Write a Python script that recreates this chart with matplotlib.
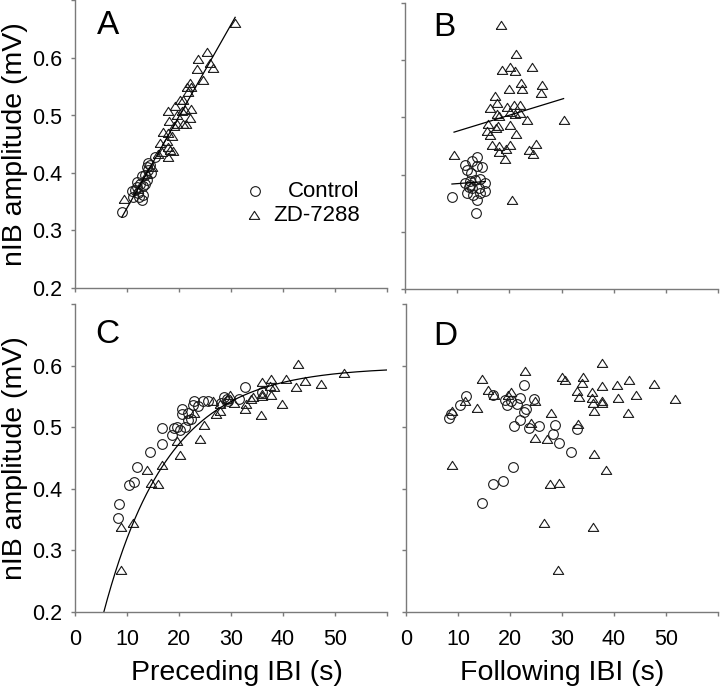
import numpy as np
import matplotlib
matplotlib.use('Agg')
import matplotlib.pyplot as plt

plt.rcParams['font.family'] = ['Liberation Sans', 'DejaVu Sans']

# Panel A: amplitude vs preceding IBI (control / ZD-7288)
a_ctrl_x = [9.0, 12.8, 11.5, 11.9, 12.5, 12.2, 13.1, 12.8, 13.8, 13.5, 14.1, 14.4,
            14.1, 15.4, 14.7, 11.2, 12.4, 13.1, 13.5, 11.9, 10.9, 13.8]
a_ctrl_y = [0.333, 0.353, 0.370, 0.385, 0.380, 0.365, 0.377, 0.394, 0.388, 0.396, 0.405, 0.414,
            0.418, 0.428, 0.400, 0.359, 0.359, 0.362, 0.380, 0.375, 0.368, 0.410]
a_zd_x = [30.8, 25.3, 23.7, 26.0, 26.5, 23.5, 24.6, 22.1, 21.5, 22.4, 21.8, 20.8,
          20.2, 19.2, 20.5, 17.9, 21.2, 22.4, 19.7, 22.2, 20.8, 21.3, 19.6, 18.1,
          19.0, 17.0, 17.8, 18.6, 16.3, 17.6, 17.9, 16.7, 18.3, 18.8, 17.8, 16.0,
          9.4, 12.2, 13.8, 14.9]
a_zd_y = [0.661, 0.611, 0.598, 0.591, 0.582, 0.580, 0.562, 0.557, 0.549, 0.550, 0.541, 0.527,
          0.527, 0.517, 0.507, 0.507, 0.510, 0.512, 0.501, 0.495, 0.486, 0.485, 0.485, 0.491,
          0.481, 0.472, 0.469, 0.464, 0.452, 0.455, 0.446, 0.437, 0.440, 0.439, 0.428, 0.433,
          0.354, 0.373, 0.399, 0.411]

# Panel B: amplitude vs following IBI
b_ctrl_x = [9.0, 13.6, 13.8, 12.8, 14.7, 11.5, 11.9, 12.6, 13.8, 14.4, 11.5, 12.5,
            13.5, 15.4, 12.2, 12.8, 14.1, 15.4, 11.9, 13.1, 14.4, 13.8, 12.4]
b_ctrl_y = [0.361, 0.332, 0.431, 0.424, 0.413, 0.416, 0.408, 0.402, 0.415, 0.393, 0.386, 0.388,
            0.390, 0.386, 0.379, 0.376, 0.376, 0.372, 0.368, 0.365, 0.367, 0.355, 0.382]
b_zd_x = [18.4, 21.2, 18.6, 20.2, 21.0, 24.4, 22.2, 26.3, 19.9, 22.4, 26.1, 17.3,
          17.6, 16.2, 19.5, 20.8, 22.1, 20.2, 21.1, 22.1, 17.6, 18.1, 23.4, 30.4,
          16.0, 20.1, 17.8, 17.5, 15.8, 16.3, 21.2, 16.7, 18.0, 20.2, 19.4, 25.1,
          23.7, 24.5, 18.0, 19.1, 9.4, 20.6]
b_zd_y = [0.662, 0.610, 0.583, 0.588, 0.581, 0.588, 0.561, 0.556, 0.549, 0.549, 0.542, 0.538,
          0.525, 0.517, 0.518, 0.522, 0.522, 0.510, 0.506, 0.508, 0.506, 0.503, 0.496, 0.495,
          0.489, 0.486, 0.485, 0.481, 0.476, 0.469, 0.471, 0.452, 0.450, 0.452, 0.444, 0.454,
          0.443, 0.436, 0.440, 0.427, 0.434, 0.355]

# Panel C: amplitude vs preceding IBI, wider range
c_ctrl_x = [8.2, 8.5, 10.4, 11.4, 11.9, 14.5, 16.7, 16.7, 18.6, 19.1, 19.7, 20.2,
            21.2, 21.8, 22.3, 20.5, 20.6, 21.8, 22.6, 22.9, 23.7, 24.7, 25.6, 28.1,
            28.7, 29.2, 29.5, 31.6, 32.7, 35.9]
c_ctrl_y = [0.353, 0.376, 0.406, 0.411, 0.435, 0.459, 0.473, 0.498, 0.488, 0.498, 0.500, 0.496,
            0.501, 0.511, 0.514, 0.529, 0.522, 0.523, 0.536, 0.542, 0.534, 0.542, 0.543, 0.540,
            0.549, 0.546, 0.543, 0.546, 0.565, 0.557]
c_zd_x = [8.8, 8.8, 11.2, 13.8, 14.6, 15.9, 16.8, 19.7, 20.2, 24.0, 24.8, 22.8,
          26.5, 27.1, 27.8, 27.9, 29.2, 29.9, 30.5, 32.7, 32.9, 33.8, 34.2, 35.8,
          35.9, 35.9, 36.0, 37.6, 37.7, 38.3, 37.5, 39.9, 40.6, 42.5, 42.9, 44.2,
          47.4, 51.8]
c_zd_y = [0.268, 0.338, 0.344, 0.430, 0.410, 0.408, 0.438, 0.477, 0.455, 0.481, 0.504, 0.523,
          0.542, 0.522, 0.526, 0.537, 0.546, 0.553, 0.539, 0.530, 0.537, 0.546, 0.549, 0.519,
          0.550, 0.554, 0.574, 0.553, 0.578, 0.566, 0.567, 0.537, 0.578, 0.566, 0.602, 0.575,
          0.570, 0.588]
# exponential fit shown in panel C: y = plateau - scale * exp(-x / tau)
c_fit_plateau = 0.598
c_fit_scale = 0.62
c_fit_tau = 12.5

# Panel D: amplitude vs following IBI, wider range
d_ctrl_x = [8.3, 8.6, 10.4, 11.5, 14.6, 16.8, 16.8, 18.6, 19.1, 19.5, 20.6, 20.8,
            21.3, 21.9, 21.9, 22.6, 22.6, 23.0, 23.7, 24.7, 25.6, 28.2, 28.7, 29.4,
            31.7, 32.8, 20.1]
d_ctrl_y = [0.515, 0.522, 0.536, 0.550, 0.377, 0.407, 0.553, 0.413, 0.544, 0.536, 0.436, 0.502,
            0.538, 0.511, 0.547, 0.568, 0.524, 0.529, 0.499, 0.545, 0.502, 0.489, 0.504, 0.474,
            0.460, 0.497, 0.542]
d_zd_x = [8.8, 8.9, 11.3, 13.7, 14.7, 15.8, 16.9, 19.7, 20.2, 22.9, 24.0, 24.8,
          24.9, 26.5, 27.2, 27.7, 27.9, 29.2, 29.5, 30.0, 30.6, 32.8, 33.0, 33.3,
          33.8, 34.1, 35.7, 35.8, 36.0, 36.2, 36.2, 35.9, 37.6, 37.7, 37.7, 37.7,
          38.5, 40.6, 40.7, 42.6, 42.9, 44.2, 47.6, 51.8]
d_zd_y = [0.526, 0.438, 0.542, 0.531, 0.579, 0.560, 0.553, 0.553, 0.557, 0.592, 0.507, 0.483,
          0.543, 0.345, 0.481, 0.408, 0.523, 0.268, 0.410, 0.581, 0.577, 0.558, 0.506, 0.549,
          0.572, 0.581, 0.557, 0.548, 0.540, 0.526, 0.457, 0.338, 0.567, 0.604, 0.543, 0.539,
          0.431, 0.568, 0.548, 0.523, 0.576, 0.553, 0.570, 0.546]

x_ticks = [0, 10, 20, 30, 40, 50, 60]
y_ticks = [0.2, 0.3, 0.4, 0.5, 0.6, 0.7]

# flattened open triangle (wider than tall, like the original symbols)
tri = [(-1, -0.75), (1, -0.75), (0, 0.8), (-1, -0.75)]
edge = '#1a1a1a'
spine_col = '#7a7a7a'
circ_size = 7
tri_size = 7.5


def style_axes(ax):
    for s in ['top', 'right']:
        ax.spines[s].set_visible(False)
    for s in ['left', 'bottom']:
        ax.spines[s].set_color(spine_col)
        ax.spines[s].set_linewidth(1.0)
    ax.set_xlim(0, 60)
    ax.set_ylim(0.2, 0.7)
    ax.set_xticks(x_ticks)
    ax.set_xticklabels([str(t) for t in x_ticks[:-1]] + [''])
    ax.set_yticks(y_ticks)
    ax.set_yticklabels(['%.1f' % t for t in y_ticks[:-1]] + [''])
    ax.tick_params(axis='both', direction='out', length=3, width=1,
                   color=spine_col, labelsize=15.5)
    ax.tick_params(axis='x', pad=9)
    ax.tick_params(axis='y', pad=6)


def scatter_pair(ax, cx, cy, zx, zy):
    ax.plot(cx, cy, linestyle='none', marker='o', markersize=circ_size,
            markerfacecolor='none', markeredgecolor=edge, markeredgewidth=0.8, clip_on=False)
    ax.plot(zx, zy, linestyle='none', marker=tri, markersize=tri_size,
            markerfacecolor='none', markeredgecolor=edge, markeredgewidth=0.8, clip_on=False)


def fit_line(ax, x, y):
    k, b = np.polyfit(x, y, 1)
    xs = np.array([min(x), max(x)])
    ax.plot(xs, k * xs + b, color='black', linewidth=0.9)


fig = plt.figure(figsize=(7.2, 6.94), dpi=100)
ax_a = fig.add_axes([75 / 720, 1 - 288 / 694, 312 / 720, 287.5 / 694])
ax_b = fig.add_axes([405 / 720, 1 - 289 / 694, 313 / 720, 286 / 694])
ax_c = fig.add_axes([75 / 720, 1 - 612 / 694, 312 / 720, 308 / 694])
ax_d = fig.add_axes([406 / 720, 1 - 612 / 694, 312 / 720, 308 / 694])

for ax in [ax_a, ax_b, ax_c, ax_d]:
    style_axes(ax)

# A
scatter_pair(ax_a, a_ctrl_x, a_ctrl_y, a_zd_x, a_zd_y)
fit_line(ax_a, a_ctrl_x + a_zd_x, a_ctrl_y + a_zd_y)
ax_a.set_xticklabels([])
ax_a.plot([0.577], [0.337], transform=ax_a.transAxes, marker='o', markersize=circ_size,
          markerfacecolor='none', markeredgecolor=edge, markeredgewidth=0.8)
ax_a.plot([0.574], [0.253], transform=ax_a.transAxes, marker=tri, markersize=tri_size,
          markerfacecolor='none', markeredgecolor=edge, markeredgewidth=0.8)
ax_a.text(0.913, 0.337, 'Control', transform=ax_a.transAxes, ha='right', va='center', fontsize=16)
ax_a.text(0.913, 0.253, 'ZD-7288', transform=ax_a.transAxes, ha='right', va='center', fontsize=16)

# B
scatter_pair(ax_b, b_ctrl_x, b_ctrl_y, b_zd_x, b_zd_y)
fit_line(ax_b, b_ctrl_x, b_ctrl_y)
fit_line(ax_b, b_zd_x, b_zd_y)
ax_b.set_xticklabels([])
ax_b.set_yticklabels([])

# C
scatter_pair(ax_c, c_ctrl_x, c_ctrl_y, c_zd_x, c_zd_y)
xs = np.linspace(4, 60, 300)
ax_c.plot(xs, c_fit_plateau - c_fit_scale * np.exp(-xs / c_fit_tau), color='black', linewidth=0.9)

# D
scatter_pair(ax_d, d_ctrl_x, d_ctrl_y, d_zd_x, d_zd_y)
ax_d.set_yticklabels([])

# panel letters
ax_a.text(0.07, 0.885, 'A', transform=ax_a.transAxes, fontsize=24, va='baseline')
ax_b.text(0.09, 0.885, 'B', transform=ax_b.transAxes, fontsize=24, va='baseline')
ax_c.text(0.064, 0.873, 'C', transform=ax_c.transAxes, fontsize=24, va='baseline')
ax_d.text(0.086, 0.867, 'D', transform=ax_d.transAxes, fontsize=24, va='baseline')

for ax in [ax_a, ax_c]:
    ax.set_ylabel('nIB amplitude (mV)', fontsize=20.5)
    ax.yaxis.set_label_coords(-0.15, 0.5)
ax_c.set_xlabel('Preceding IBI (s)', fontsize=20.5)
ax_c.xaxis.set_label_coords(0.52, -0.155)
ax_d.set_xlabel('Following IBI (s)', fontsize=20.5)
ax_d.xaxis.set_label_coords(0.5, -0.155)

fig.savefig('out.png', dpi=100)
